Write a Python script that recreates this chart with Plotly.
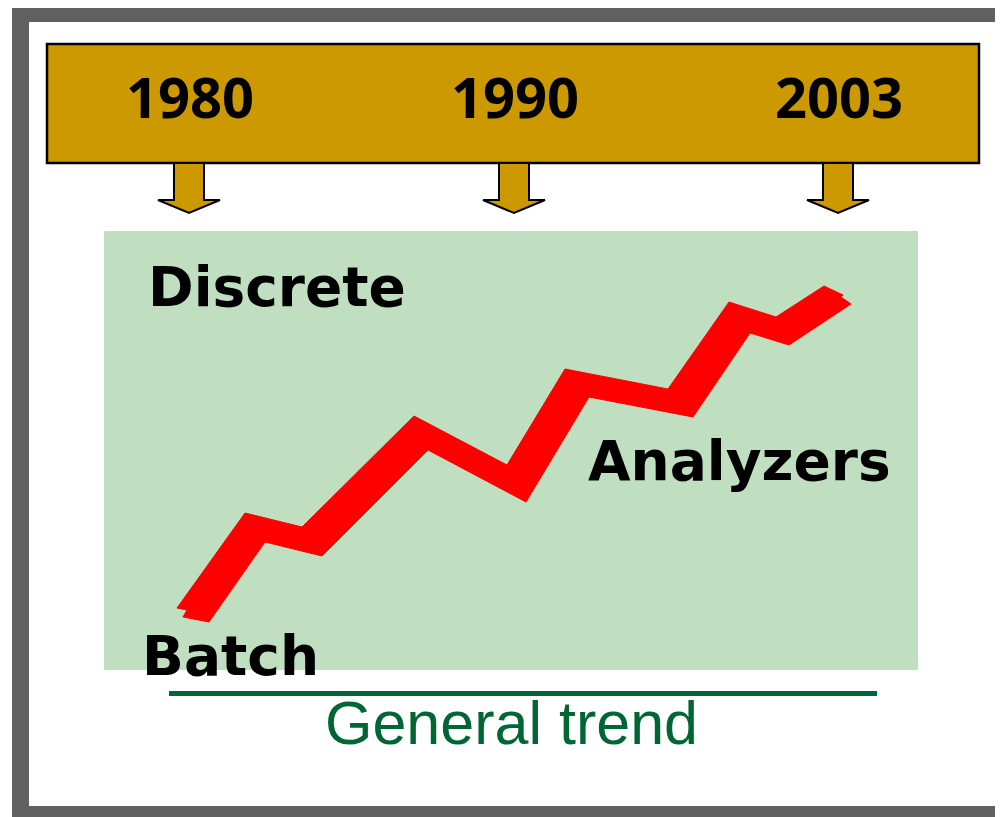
import plotly.graph_objects as go

# ---- data ----
years = ["1980", "1990", "2003"]
year_x = [189, 514, 838]

stage_labels = ["Discrete", "Analyzers", "Batch"]
stage_x = [277, 739, 230]
stage_y = [287, 461, 656]

# upper and lower edges of the red trend band
trend_upper_x = [177, 245, 302, 414, 507, 565, 668, 729, 776, 824, 843, 841, 851]
trend_upper_y = [608, 513, 527, 416, 465, 369, 389, 302, 317, 286, 295, 297, 304]
trend_lower_x = [187, 183, 209, 265, 322, 428, 526, 589, 693, 750, 789]
trend_lower_y = [610, 617, 622, 542, 556, 450, 502, 397, 417, 333, 345]

caption = "General trend"

W, H = 1003, 817
OFF = 8  # page body margin: figure is drawn at (8, 8)
GOLD = "#CC9900"
GREEN_BG = "#C0DFC1"
DARK_GREEN = "#006633"
GRAY = "#606060"

fig = go.Figure()

# red trend band (polygon built from the two edges)
poly_x = trend_upper_x + trend_lower_x[::-1]
poly_y = trend_upper_y + trend_lower_y[::-1]
fig.add_trace(go.Scatter(
    x=poly_x + [poly_x[0]], y=poly_y + [poly_y[0]],
    mode="lines", fill="toself", fillcolor="#FF0000",
    line=dict(color="#FF0000", width=1), hoverinfo="skip", showlegend=False))

shapes = []
# gray frame
shapes.append(dict(type="rect", x0=12, x1=W + 5, y0=6, y1=22, fillcolor=GRAY, line_width=0, layer="below"))
shapes.append(dict(type="rect", x0=12, x1=29, y0=6, y1=H + 5, fillcolor=GRAY, line_width=0, layer="below"))
shapes.append(dict(type="rect", x0=12, x1=W + 5, y0=806, y1=H + 5, fillcolor=GRAY, line_width=0, layer="below"))
# green background box
shapes.append(dict(type="rect", x0=104, x1=918, y0=231, y1=670, fillcolor=GREEN_BG, line_width=0, layer="below"))
# gold timeline bar
shapes.append(dict(type="rect", x0=47, x1=979, y0=44, y1=163, fillcolor=GOLD,
                   line=dict(color="black", width=2.5), layer="above"))
# arrows
for xc in year_x:
    path = (f"M {xc-15} 163 L {xc-15} 200 L {xc-31} 200 L {xc} 213 "
            f"L {xc+31} 200 L {xc+15} 200 L {xc+15} 163 Z")
    shapes.append(dict(type="path", path=path, fillcolor=GOLD,
                       line=dict(color="black", width=2), layer="above"))
# dark green trend underline
shapes.append(dict(type="line", x0=169, x1=877, y0=693.5, y1=693.5,
                   line=dict(color=DARK_GREEN, width=5), layer="above"))

annotations = []
for t, xc in zip(years, year_x):
    annotations.append(dict(x=xc + 1, y=96, text=t, showarrow=False, xanchor="center", yanchor="middle",
                            font=dict(family="Open Sans", size=56, color="black", weight="bold")))
for t, xc, yc in zip(stage_labels, stage_x, stage_y):
    annotations.append(dict(x=xc, y=yc, text=t, showarrow=False, xanchor="center", yanchor="middle",
                            font=dict(family="DejaVu Sans", size=55, color="black", weight="bold")))
annotations.append(dict(x=511, y=723, text=caption, showarrow=False, xanchor="center", yanchor="middle",
                        font=dict(family="Liberation Sans", size=61, color=DARK_GREEN)))

fig.update_layout(
    width=W - OFF, height=H - OFF,
    margin=dict(l=0, r=0, t=0, b=0),
    paper_bgcolor="white", plot_bgcolor="white",
    xaxis=dict(range=[OFF, W], visible=False, fixedrange=True),
    yaxis=dict(range=[H, OFF], visible=False, fixedrange=True),
    shapes=shapes, annotations=annotations, showlegend=False,
)

fig.write_html("out.html", config={"displayModeBar": False})
